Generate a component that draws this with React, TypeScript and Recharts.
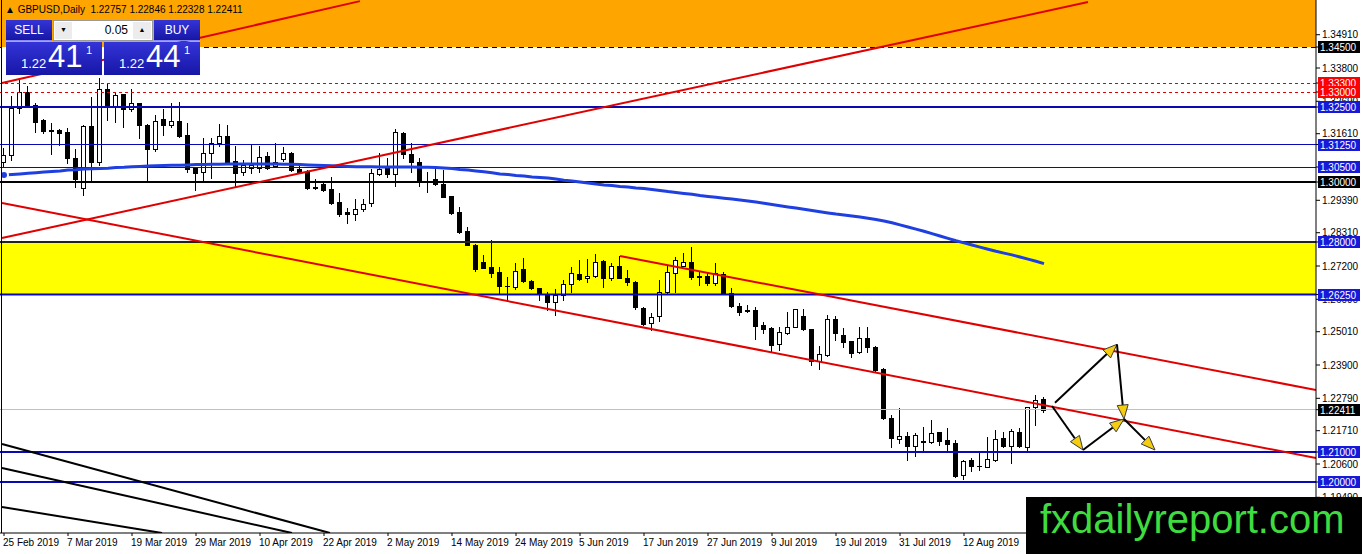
import React from 'react';
import { Bar, ComposedChart, Line, ReferenceArea, ReferenceLine, XAxis, YAxis } from 'recharts';

// GBPUSD daily, 25 Feb 2019 .. 26 Aug 2019 (bar index = trading day)
const opens = [
    1.3068, 1.3090, 1.3246, 1.3301, 1.3257, 1.3207, 1.3171, 1.3173, 1.3168, 1.3079,
    1.2979, 1.3187, 1.3068, 1.3309, 1.3254, 1.3293, 1.3242, 1.3262, 1.3190, 1.3109,
    1.3209, 1.3190, 1.3203, 1.3157, 1.3046, 1.3034, 1.3098, 1.3129, 1.3153, 1.3070,
    1.3034, 1.3046, 1.3046, 1.3087, 1.3053, 1.3076, 1.3098, 1.3043, 1.3034, 1.2980,
    1.2993, 1.2976, 1.2932, 1.2901, 1.2892, 1.2910, 1.2929, 1.3027, 1.3046, 1.3026,
    1.3162, 1.3092, 1.3068, 1.3002, 1.3009, 1.2993, 1.2953, 1.2899, 1.2837, 1.2790,
    1.2734, 1.2716, 1.2701, 1.2654, 1.2649, 1.2709, 1.2671, 1.2646, 1.2623, 1.2601,
    1.2623, 1.2660, 1.2692, 1.2679, 1.2688, 1.2738, 1.2679, 1.2720, 1.2681, 1.2668,
    1.2579, 1.2529, 1.2553, 1.2634, 1.2698, 1.2721, 1.2734, 1.2684, 1.2687, 1.2664,
    1.2692, 1.2631, 1.2588, 1.2572, 1.2573, 1.2523, 1.2514, 1.2459, 1.2496, 1.2518,
    1.2553, 1.2509, 1.2404, 1.2423, 1.2542, 1.2490, 1.2471, 1.2434, 1.2479, 1.2451,
    1.2376, 1.2212, 1.2142, 1.2153, 1.2121, 1.2136, 1.2134, 1.2166, 1.2140, 1.2131,
    1.2023, 1.2073, 1.2054, 1.2051, 1.2073, 1.2146, 1.2120, 1.2166, 1.2118, 1.2249,
    1.22757,
];
const highs = [
    1.3112, 1.3287, 1.3346, 1.3320, 1.3262, 1.3210, 1.3198, 1.3176, 1.3179, 1.3109,
    1.3190, 1.3284, 1.3346, 1.3329, 1.3296, 1.3295, 1.3309, 1.3265, 1.3192, 1.3223,
    1.3242, 1.3262, 1.3268, 1.3196, 1.3048, 1.3146, 1.3146, 1.3193, 1.3190, 1.3120,
    1.3073, 1.3123, 1.3120, 1.3101, 1.3131, 1.3116, 1.3101, 1.3060, 1.3040, 1.3009,
    1.2998, 1.3018, 1.2962, 1.2913, 1.2942, 1.2942, 1.3042, 1.3098, 1.3079, 1.3176,
    1.3168, 1.3129, 1.3079, 1.3034, 1.3046, 1.3040, 1.2953, 1.2918, 1.2851, 1.2795,
    1.2757, 1.2807, 1.2716, 1.2684, 1.2729, 1.2746, 1.2673, 1.2646, 1.2634, 1.2642,
    1.2673, 1.2718, 1.2740, 1.2742, 1.2760, 1.2740, 1.2729, 1.2753, 1.2707, 1.2671,
    1.2582, 1.2562, 1.2673, 1.2720, 1.2751, 1.2762, 1.2782, 1.2701, 1.2701, 1.2731,
    1.2701, 1.2646, 1.2598, 1.2590, 1.2584, 1.2534, 1.2518, 1.2518, 1.2568, 1.2578,
    1.2576, 1.2509, 1.2453, 1.2557, 1.2553, 1.2512, 1.2471, 1.2518, 1.2518, 1.2453,
    1.2379, 1.2223, 1.2246, 1.2168, 1.2162, 1.2184, 1.2207, 1.2168, 1.2179, 1.2140,
    1.2073, 1.2079, 1.2101, 1.2149, 1.2173, 1.2168, 1.2176, 1.2179, 1.2251, 1.2290,
    1.22846,
];
const lows = [
    1.3051, 1.3073, 1.3229, 1.3251, 1.3168, 1.3164, 1.3093, 1.3123, 1.3062, 1.2984,
    1.2957, 1.3001, 1.3057, 1.3207, 1.3201, 1.3184, 1.3238, 1.3146, 1.3001, 1.3105,
    1.3157, 1.3184, 1.3151, 1.3034, 1.2973, 1.3007, 1.3012, 1.3120, 1.3064, 1.2984,
    1.3023, 1.3029, 1.3034, 1.3042, 1.3051, 1.3071, 1.3038, 1.3029, 1.2976, 1.2976,
    1.2971, 1.2927, 1.2887, 1.2862, 1.2873, 1.2904, 1.2921, 1.3023, 1.3018, 1.2987,
    1.3079, 1.3034, 1.2987, 1.2968, 1.2990, 1.2949, 1.2893, 1.2831, 1.2789, 1.2705,
    1.2712, 1.2684, 1.2627, 1.2607, 1.2642, 1.2668, 1.2642, 1.2607, 1.2573, 1.2557,
    1.2607, 1.2634, 1.2673, 1.2668, 1.2684, 1.2651, 1.2673, 1.2679, 1.2657, 1.2577,
    1.2523, 1.2507, 1.2538, 1.2629, 1.2634, 1.2720, 1.2676, 1.2657, 1.2657, 1.2657,
    1.2629, 1.2582, 1.2557, 1.2566, 1.2476, 1.2496, 1.2434, 1.2440, 1.2493, 1.2516,
    1.2507, 1.2390, 1.2376, 1.2420, 1.2473, 1.2451, 1.2416, 1.2429, 1.2434, 1.2371,
    1.2209, 1.2116, 1.2129, 1.2073, 1.2087, 1.2101, 1.2129, 1.2123, 1.2101, 1.2016,
    1.2010, 1.2038, 1.2040, 1.2049, 1.2071, 1.2118, 1.2062, 1.2118, 1.2104, 1.2190,
    1.22328,
];
const closes = [
    1.3090, 1.3246, 1.3301, 1.3253, 1.3199, 1.3171, 1.3174, 1.3164, 1.3079, 1.3009,
    1.3187, 1.3068, 1.3309, 1.3251, 1.3290, 1.3242, 1.3262, 1.3190, 1.3109, 1.3204,
    1.3190, 1.3203, 1.3155, 1.3042, 1.3029, 1.3098, 1.3129, 1.3153, 1.3068, 1.3031,
    1.3057, 1.3057, 1.3082, 1.3046, 1.3066, 1.3098, 1.3040, 1.3034, 1.2979, 1.2984,
    1.2973, 1.2931, 1.2893, 1.2892, 1.2910, 1.2926, 1.3029, 1.3042, 1.3027, 1.3166,
    1.3092, 1.3068, 1.3001, 1.3004, 1.2993, 1.2951, 1.2898, 1.2834, 1.2790, 1.2709,
    1.2714, 1.2696, 1.2653, 1.2653, 1.2704, 1.2671, 1.2646, 1.2627, 1.2601, 1.2623,
    1.2660, 1.2696, 1.2677, 1.2688, 1.2734, 1.2679, 1.2720, 1.2681, 1.2666, 1.2582,
    1.2527, 1.2551, 1.2634, 1.2699, 1.2740, 1.2734, 1.2682, 1.2686, 1.2662, 1.2696,
    1.2631, 1.2587, 1.2568, 1.2570, 1.2521, 1.2510, 1.2457, 1.2501, 1.2518, 1.2576,
    1.2509, 1.2404, 1.2427, 1.2542, 1.2498, 1.2468, 1.2431, 1.2479, 1.2449, 1.2373,
    1.2212, 1.2146, 1.2153, 1.2121, 1.2157, 1.2133, 1.2162, 1.2138, 1.2127, 1.2020,
    1.2070, 1.2054, 1.2052, 1.2076, 1.2142, 1.2120, 1.2170, 1.2120, 1.2249, 1.2273,
    1.22411,
];
// slow moving average (thick blue)
const movingAvg = [
    1.3023, 1.3025, 1.3027, 1.3029, 1.3031, 1.3033, 1.3035, 1.3037, 1.3040,
    1.3041, 1.3043, 1.3044, 1.3045, 1.3046, 1.3048, 1.3049, 1.3051,
    1.3052, 1.3053, 1.3054, 1.3055, 1.3056, 1.3056, 1.3057,
    1.3058, 1.3058, 1.3059, 1.3059, 1.3060, 1.3060, 1.3060, 1.3060, 1.3060, 1.3060, 1.3060, 1.3059, 1.3059, 1.3058, 1.3057,
    1.3056, 1.3055, 1.3054, 1.3053, 1.3052, 1.3051, 1.3051, 1.3051, 1.3050, 1.3050, 1.3050, 1.3050, 1.3050, 1.3049, 1.3049, 1.3048, 1.3047,
    1.3045, 1.3042, 1.3040, 1.3037, 1.3034, 1.3031, 1.3027,
    1.3025, 1.3022, 1.3020, 1.3017, 1.3015, 1.3013, 1.3010, 1.3006, 1.3003, 1.3000, 1.2997, 1.2993,
    1.2990, 1.2988, 1.2985, 1.2983, 1.2980, 1.2978, 1.2975, 1.2972, 1.2968, 1.2965, 1.2962, 1.2959, 1.2955,
    1.2952, 1.2949, 1.2946, 1.2943, 1.2940, 1.2937, 1.2933, 1.2929, 1.2925, 1.2921, 1.2917, 1.2913,
    1.2909, 1.2905, 1.2901, 1.2897, 1.2893, 1.2890, 1.2887, 1.2883, 1.2879, 1.2875, 1.2870, 1.2864, 1.2857,
    1.2850, 1.2843, 1.2836, 1.2828, 1.2820, 1.2812, 1.2804, 1.2797, 1.2790, 1.2783, 1.2776, 1.2769, 1.2763,
    1.2757, 1.2750, 1.2743, 1.2736, 1.2728, 1.2722,
];

const dateTickBars = [0, 8, 16, 24, 32, 40, 48, 56, 64, 72, 80, 88, 96, 104, 112, 120];
const dateLabels = [
    '25 Feb 2019', '7 Mar 2019', '19 Mar 2019', '29 Mar 2019', '10 Apr 2019', '22 Apr 2019',
    '2 May 2019', '14 May 2019', '24 May 2019', '5 Jun 2019', '17 Jun 2019', '27 Jun 2019',
    '9 Jul 2019', '19 Jul 2019', '31 Jul 2019', '12 Aug 2019',
];
const priceTicks = [
    1.3491, 1.338, 1.3269, 1.3161, 1.305, 1.2939, 1.2831, 1.272, 1.2609, 1.2501,
    1.239, 1.2279, 1.2171, 1.206, 1.1949,
];
const lastPrice = 1.22411;
// horizontal levels drawn on the chart, each with a price tag on the axis
const levelPrices = [1.345, 1.333, 1.33, 1.325, 1.3125, 1.305, 1.3, 1.28, 1.2625, lastPrice, 1.21, 1.2];

// drawn objects, in (bar index, price)
const supportRise = [[-0.25, 1.28133], [135.5, 1.36]];
const resistRise = [[-0.25, 1.333], [44.5, 1.3603]];
const channelLow = [[-0.25, 1.293], [164, 1.208]];
const channelHigh = [[77, 1.27533], [164, 1.23067]];
const fanLines = [
    [[-0.25, 1.21267], [40.75, 1.183]],
    [[-0.25, 1.20467], [36, 1.183]],
    [[-0.25, 1.19167], [19.75, 1.183]],
];
const arrows = [
    [[131.375, 1.22643], [139.125, 1.2459]],
    [[139.125, 1.2459], [140, 1.221]],
    [[131, 1.22533], [134.875, 1.21067]],
    [[134.875, 1.21067], [140, 1.221]],
    [[140, 1.221], [143.875, 1.21067]],
];

const Y_MIN = 1.183;
const Y_MAX = 1.36067;

const data = closes.map((c, i) => ({
    i,
    o: opens[i],
    h: highs[i],
    l: lows[i],
    c,
    ma: movingAvg[i],
}));

const FONT = '"Liberation Sans", Arial, sans-serif';
const BLUE = '#0a0ab4';
const TAG_BLUE = '#1818d8';
const RED = '#e00000';
// tag colour per level (same order as levelPrices)
const levelTagColors = ['#000', '#ff0000', '#ff0000', TAG_BLUE, TAG_BLUE, TAG_BLUE, '#000', TAG_BLUE, TAG_BLUE, '#000', TAG_BLUE, TAG_BLUE];

// plain ticks first, level tags after so they are painted on top
const axisTicks = priceTicks.filter((t) => !levelPrices.includes(t)).concat(levelPrices);

function Candle(props: any) {
    const { x, y, width, height, payload } = props;
    if (!payload || height == null) return null;
    const { o, h, l, c } = payload;
    const top = Math.min(y, y + height);
    const span = Math.abs(height);
    const k = h > l ? span / (h - l) : 0;
    const py = (v: number) => top + (h - v) * k;
    const cx = Math.floor(x + width / 2) + 0.5;
    const bTop = Math.round(py(Math.max(o, c))) + 0.5;
    const bBot = Math.round(py(Math.min(o, c))) + 0.5;
    return (
        <g>
            <line x1={cx} x2={cx} y1={Math.round(top)} y2={Math.round(top + span) + 1} stroke="#000" />
            {bBot - bTop < 1 ? (
                <line x1={cx - 2.5} x2={cx + 2.5} y1={bTop} y2={bTop} stroke="#000" />
            ) : (
                <rect x={cx - 2} y={bTop} width={4} height={bBot - bTop} fill={c >= o ? '#fff' : '#000'} stroke="#000" />
            )}
        </g>
    );
}

function Arrow(props: any) {
    const { x1, y1, x2, y2 } = props;
    if (x1 == null) return null;
    const dx = x2 - x1;
    const dy = y2 - y1;
    const len = Math.hypot(dx, dy) || 1;
    const ux = dx / len;
    const uy = dy / len;
    const bx = x2 - ux * 14;
    const by = y2 - uy * 14;
    const pts = `${x2},${y2} ${bx - uy * 5.5},${by + ux * 5.5} ${bx + uy * 5.5},${by - ux * 5.5}`;
    return (
        <g>
            <line x1={x1} y1={y1} x2={bx} y2={by} stroke="#000" strokeWidth={2} />
            <polygon points={pts} fill="#f4cc10" stroke="#3a3a3a" strokeWidth={1} />
        </g>
    );
}

function PriceTick(props: any) {
    const { x, y, payload } = props;
    const v = Number(payload.value);
    const k = levelPrices.indexOf(v);
    if (k < 0) {
        return (
            <text x={x} y={y + 3.5} fontSize={10} fontFamily={FONT} fill="#000">
                {v.toFixed(5)}
            </text>
        );
    }
    const yy = Math.round(y);
    return (
        <g>
            <rect x={x - 4} y={yy - 6} width={42} height={12} fill={levelTagColors[k]} />
            <text x={x - 2} y={yy + 4} fontSize={10} fontFamily={FONT} fill="#fff">
                {v.toFixed(5)}
            </text>
        </g>
    );
}

function DateTick(props: any) {
    const { x, y, payload } = props;
    const k = dateTickBars.indexOf(payload.value);
    return (
        <text x={x - 1} y={y + 8} fontSize={10} fontFamily={FONT} fill="#000">
            {k >= 0 ? dateLabels[k] : ''}
        </text>
    );
}

const seg = (p: number[][]) => [{ x: p[0][0], y: p[0][1] }, { x: p[1][0], y: p[1][1] }];

const btn: React.CSSProperties = {
    position: 'absolute',
    background: 'linear-gradient(#3434d8, #1616a6)',
    color: '#fff',
    fontFamily: FONT,
    boxSizing: 'border-box',
};

export default function App() {
    return (
        <div style={{ position: 'fixed', left: 0, top: 0, width: 1362, height: 554, background: '#fff', overflow: 'hidden' }}>
            <ComposedChart
                width={1362}
                height={554}
                data={data}
                margin={{ top: 0, right: 0, bottom: 0, left: 0 }}
                style={{ fontFamily: FONT }}
            >
                <XAxis
                    dataKey="i"
                    type="number"
                    domain={[-0.5, 164]}
                    allowDataOverflow
                    ticks={dateTickBars}
                    interval={0}
                    height={21}
                    tickSize={3}
                    tickMargin={2}
                    axisLine={{ stroke: '#000' }}
                    tickLine={{ stroke: '#000' }}
                    tick={<DateTick />}
                />
                <YAxis
                    orientation="right"
                    type="number"
                    domain={[Y_MIN, Y_MAX]}
                    allowDataOverflow
                    ticks={axisTicks}
                    interval={0}
                    width={46}
                    tickSize={4}
                    tickMargin={2}
                    axisLine={{ stroke: '#000' }}
                    tickLine={{ stroke: '#000' }}
                    tick={<PriceTick />}
                />
                <ReferenceArea y1={1.345} y2={Y_MAX} fill="#ffa500" fillOpacity={1} stroke="none" />
                <ReferenceArea y1={1.2625} y2={1.28} fill="#ffff00" fillOpacity={1} stroke="none" />

                <Bar dataKey={(d: any) => [d.l, d.h]} barSize={5} shape={Candle} isAnimationActive={false} />

                <ReferenceLine y={lastPrice} stroke="#c0c0c0" shapeRendering="crispEdges" />
                <ReferenceLine y={1.345} stroke="#000" strokeDasharray="5 4" shapeRendering="crispEdges" />
                <ReferenceLine y={1.333} stroke={RED} strokeDasharray="3 3" shapeRendering="crispEdges" />
                <ReferenceLine y={1.33} stroke={RED} strokeDasharray="3 3" shapeRendering="crispEdges" />
                <ReferenceLine y={1.325} stroke={BLUE} strokeWidth={2} />
                <ReferenceLine y={1.3125} stroke={BLUE} shapeRendering="crispEdges" />
                <ReferenceLine y={1.305} stroke={BLUE} shapeRendering="crispEdges" />
                <ReferenceLine y={1.3} stroke="#000" strokeWidth={2} />
                <ReferenceLine y={1.28} stroke="#222" strokeWidth={2} />
                <ReferenceLine y={1.2625} stroke={BLUE} strokeWidth={2} />
                <ReferenceLine y={1.21} stroke={BLUE} strokeWidth={2} />
                <ReferenceLine y={1.2} stroke={BLUE} strokeWidth={2} />

                <Line dataKey="ma" stroke="#1f3fe0" strokeWidth={3} dot={false} isAnimationActive={false} />

                <ReferenceLine segment={seg(supportRise)} stroke={RED} strokeWidth={2} ifOverflow="hidden" />
                <ReferenceLine segment={seg(resistRise)} stroke={RED} strokeWidth={2} ifOverflow="hidden" />
                <ReferenceLine segment={seg(channelLow)} stroke={RED} strokeWidth={2} ifOverflow="hidden" />
                <ReferenceLine segment={seg(channelHigh)} stroke={RED} strokeWidth={2} ifOverflow="hidden" />
                {fanLines.map((f, k) => (
                    <ReferenceLine key={'f' + k} segment={seg(f)} stroke="#000" strokeWidth={2} ifOverflow="hidden" />
                ))}
                {arrows.map((a, k) => (
                    <ReferenceLine key={'a' + k} segment={seg(a)} ifOverflow="visible" shape={Arrow} />
                ))}
            </ComposedChart>

            {/* left chart border */}
            <div style={{ position: 'absolute', left: 1, top: 0, width: 1, height: 533, background: '#000' }} />

            {/* header */}
            <div style={{ position: 'absolute', left: 5, top: 3, fontFamily: FONT, fontSize: 10, lineHeight: '13px', color: '#000', whiteSpace: 'pre' }}>
                {'▲ GBPUSD,Daily  1.22757 1.22846 1.22328 1.22411'}
            </div>

            {/* one-click trading panel */}
            <div style={{ ...btn, left: 6, top: 20, width: 46, height: 21, fontSize: 12, lineHeight: '20px', textAlign: 'center', borderBottom: '1px solid #8c8cf0' }}>SELL</div>
            <div style={{ position: 'absolute', left: 53, top: 20, width: 100, height: 21, background: '#fff', border: '1px solid #9a9a9a', boxSizing: 'border-box' }}>
                <div style={{ position: 'absolute', left: 1, top: 1, width: 17, height: 17, background: '#ececec', fontSize: 7, lineHeight: '17px', textAlign: 'center' }}>▼</div>
                <div style={{ position: 'absolute', right: 24, top: 0, fontFamily: FONT, fontSize: 12, lineHeight: '19px' }}>0.05</div>
                <div style={{ position: 'absolute', right: 1, top: 1, width: 18, height: 17, background: '#ececec', fontSize: 7, lineHeight: '17px', textAlign: 'center' }}>▲</div>
            </div>
            <div style={{ ...btn, left: 154, top: 20, width: 46, height: 21, fontSize: 12, lineHeight: '20px', textAlign: 'center', borderBottom: '1px solid #8c8cf0' }}>BUY</div>
            <div style={{ ...btn, left: 6, top: 42, width: 96, height: 33 }}>
                <span style={{ position: 'absolute', left: 15, top: 14, fontSize: 13 }}>1.22</span>
                <span style={{ position: 'absolute', left: 42, top: -3, fontSize: 31 }}>41</span>
                <span style={{ position: 'absolute', left: 80, top: 2, fontSize: 11 }}>1</span>
            </div>
            <div style={{ ...btn, left: 104, top: 42, width: 96, height: 33 }}>
                <span style={{ position: 'absolute', left: 15, top: 14, fontSize: 13 }}>1.22</span>
                <span style={{ position: 'absolute', left: 42, top: -3, fontSize: 31 }}>44</span>
                <span style={{ position: 'absolute', left: 80, top: 2, fontSize: 11 }}>1</span>
            </div>

            {/* watermark */}
            <div style={{ position: 'absolute', left: 1026, top: 497, width: 336, height: 57, background: '#000', overflow: 'hidden' }}>
                <div style={{ position: 'absolute', left: 14, top: -6, fontFamily: FONT, fontSize: 40, lineHeight: '57px', color: '#3fdc3f', whiteSpace: 'nowrap' }}>
                    fxdailyreport.com
                </div>
            </div>
        </div>
    );
}
